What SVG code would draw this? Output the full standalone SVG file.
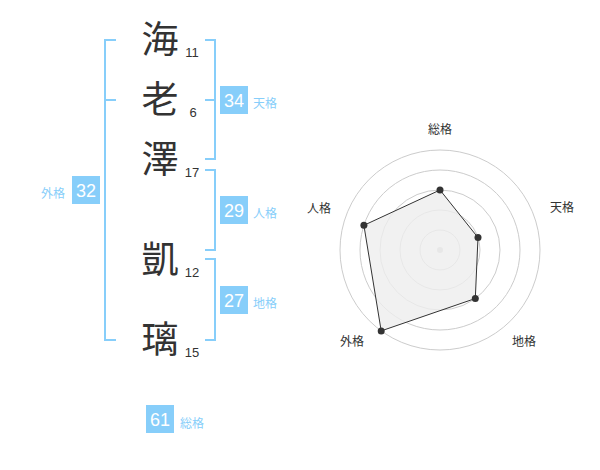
<svg xmlns="http://www.w3.org/2000/svg" width="600" height="470" viewBox="0 0 600 470">
<style>
.ch{font-family:"Noto Sans CJK JP","Noto Sans CJK SC",sans-serif;font-size:37px;fill:#333;text-anchor:middle}
.st{font-family:"Liberation Sans",Arial,sans-serif;font-size:13px;fill:#333;text-anchor:middle}
.br{fill:none;stroke:#87cefa;stroke-width:2}
.bx{fill:#87cefa}
.bn{font-family:"Liberation Sans",Arial,sans-serif;font-size:18px;fill:#fff;text-anchor:middle}
.lb{font-family:"Noto Sans CJK JP","Noto Sans CJK SC",sans-serif;font-size:12px;fill:#87cefa}
.rl{font-family:"Noto Sans CJK JP","Noto Sans CJK SC",sans-serif;font-size:12px;fill:#333;text-anchor:middle}
.ring{fill:none;stroke:#ccc;stroke-width:1}
</style>
<rect width="600" height="470" fill="#fff"/>
<g id="connectors">
<path class="br" d="M116,40H105V340H116M105,100H116"/>
<path class="br" d="M205,40H215V159H205M205,100H215"/>
<path class="br" d="M205,170H215V250H205"/>
<path class="br" d="M205,259H215V340H205"/>
</g>
<g id="char1"><text class="ch" x="160" y="53">海</text><text class="st" x="192" y="57">11</text></g>
<g id="char2"><text class="ch" x="160" y="113">老</text><text class="st" x="193" y="117">6</text></g>
<g id="char3"><text class="ch" x="160" y="173">澤</text><text class="st" x="192" y="177">17</text></g>
<g id="char4"><text class="ch" x="160" y="273">凱</text><text class="st" x="192" y="277">12</text></g>
<g id="char5"><text class="ch" x="160" y="353">璃</text><text class="st" x="192" y="357">15</text></g>
<g id="tenkaku"><rect class="bx" x="220" y="86" width="28" height="28"/><text class="bn" x="234" y="107">34</text><text class="lb" x="253" y="108">天格</text></g>
<g id="jinkaku"><rect class="bx" x="220" y="196" width="28" height="28"/><text class="bn" x="234" y="217">29</text><text class="lb" x="253" y="218">人格</text></g>
<g id="chikaku"><rect class="bx" x="220" y="286" width="28" height="28"/><text class="bn" x="234" y="307">27</text><text class="lb" x="253" y="308">地格</text></g>
<g id="gaikaku"><rect class="bx" x="72" y="176" width="28" height="28"/><text class="bn" x="86" y="197">32</text><text class="lb" x="41" y="198">外格</text></g>
<g id="soukaku"><rect class="bx" x="146" y="405" width="28" height="28"/><text class="bn" x="160" y="426">61</text><text class="lb" x="180" y="428">総格</text></g>
<g id="radar">
<circle class="ring" cx="440" cy="250" r="20"/>
<circle class="ring" cx="440" cy="250" r="40"/>
<circle class="ring" cx="440" cy="250" r="60"/>
<circle class="ring" cx="440" cy="250" r="80"/>
<circle class="ring" cx="440" cy="250" r="100"/>
<circle cx="440" cy="250" r="3" fill="#ccc"/>
<polygon points="440,190 478,237.6 475.3,298.5 381.2,330.9 363.9,225.3" fill="#eee" fill-opacity="0.8" stroke="#333" stroke-width="1"/>
<g fill="#333">
<circle cx="440" cy="190" r="3.5"/>
<circle cx="478" cy="237.6" r="3.5"/>
<circle cx="475.3" cy="298.5" r="3.5"/>
<circle cx="381.2" cy="330.9" r="3.5"/>
<circle cx="363.9" cy="225.3" r="3.5"/>
</g>
<text class="rl" x="440" y="134">総格</text>
<text class="rl" x="562" y="212">天格</text>
<text class="rl" x="524" y="346">地格</text>
<text class="rl" x="352" y="346">外格</text>
<text class="rl" x="319" y="213">人格</text>
</g>
</svg>
